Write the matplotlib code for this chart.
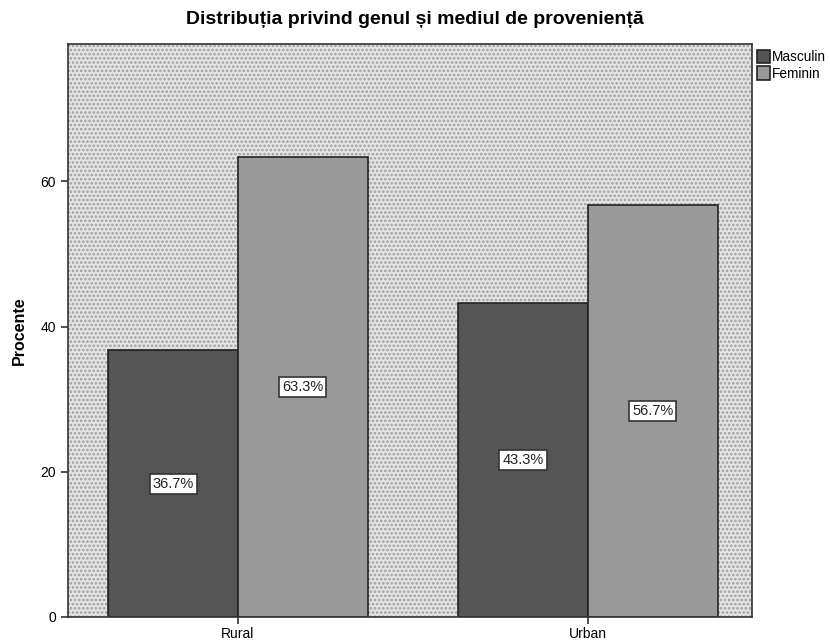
import matplotlib
matplotlib.use('Agg')
import matplotlib.pyplot as plt
import numpy as np

plt.rcParams['font.family'] = ['Liberation Sans', 'DejaVu Sans']
plt.rcParams['hatch.linewidth'] = 1.3

categories = ['Rural', 'Urban']
series = ['Masculin', 'Feminin']
masculin = [36.7, 43.3]
feminin = [63.3, 56.7]
colors = ['#555555', '#999999']

fig = plt.figure(figsize=(8.3, 6.41), dpi=100)
ax = fig.add_axes([68 / 830, 1 - 617 / 641, (752 - 68) / 830, (617 - 44) / 641])

# dotted background like SPSS
ax.set_facecolor('#e4e4e4')
bg = plt.Rectangle((0, 0), 1, 1, transform=ax.transAxes, facecolor='none',
                   edgecolor='#a0a0a0', hatch='....', linewidth=0, zorder=0)
ax.add_patch(bg)

x = np.arange(len(categories))
w = 0.371
for i, (vals, name) in enumerate(zip([masculin, feminin], series)):
    pos = x - w / 2 + i * w
    bars = ax.bar(pos, vals, width=w, color=colors[i], edgecolor='#222222',
                  linewidth=1.2, label=name, zorder=2)
    for b, v in zip(bars, vals):
        ax.text(b.get_x() + b.get_width() / 2, v / 2, f'{v:.1f}%',
                ha='center', va='center', fontsize=10.5, color='#222222', zorder=3,
                bbox=dict(boxstyle='square,pad=0.2', facecolor='white',
                          edgecolor='#333333', linewidth=1.2))

ax.set_xlim(-0.486, 1.469)
ax.set_ylim(0, 78.9)
ax.set_yticks([0, 20, 40, 60])
ax.set_xticks(x)
ax.set_xticklabels(categories)
ax.tick_params(axis='both', labelsize=10, length=5, width=1.2, color='#333333')
ax.tick_params(axis='x', pad=2)
for s in ax.spines.values():
    s.set_color('#333333')
    s.set_linewidth(1.2)

ax.set_ylabel('Procente', fontsize=11.5, fontweight='bold', labelpad=10)
fig.text(0.5, 1 - 20 / 641, 'Distribuția privind genul și mediul de proveniență',
         ha='center', va='center', fontsize=14, fontweight='bold')

leg = ax.legend(loc='upper left', bbox_to_anchor=(0.997, 1.001), frameon=False,
                fontsize=9.8, handlelength=1.0, handleheight=1.1,
                handletextpad=0.1, borderaxespad=0.1, labelspacing=0.15)

plt.savefig('out.png', dpi=100)
